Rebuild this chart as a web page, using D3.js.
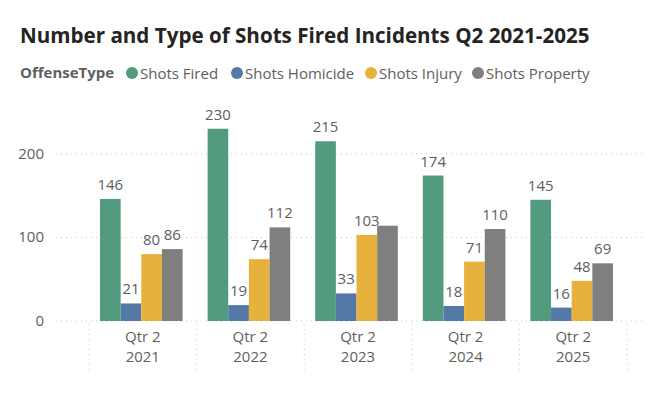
<!DOCTYPE html>
<html>
<head>
<meta charset="utf-8">
<script src="https://cdn.jsdelivr.net/npm/d3@7"></script>
<style>
  body { margin: 0; background: #fff; }
  text { font-family: "Open Sans", "Noto Sans", sans-serif; }
</style>
</head>
<body>
<div id="chart"></div>
<script>
var years = ["2021", "2022", "2023", "2024", "2025"];
var quarterLabel = "Qtr 2";
var seriesNames = ["Shots Fired", "Shots Homicide", "Shots Injury", "Shots Property"];
var shotsFired = [146, 230, 215, 174, 145];
var shotsHomicide = [21, 19, 33, 18, 16];
var shotsInjury = [80, 74, 103, 71, 48];
var shotsProperty = [86, 112, 114, 110, 69];
// 2023 property label is hidden in the original
var hiddenLabels = [[3, 2]];
var yTicks = [0, 100, 200];
var colors = ["#539B7F", "#5479A6", "#E6B23C", "#7F7F7F"];

var width = 650, height = 395;
var svg = d3.select("#chart").append("svg")
    .attr("width", width)
    .attr("height", height);

var allSeries = [shotsFired, shotsHomicide, shotsInjury, shotsProperty];

var x = d3.scaleBand().domain(years).range([89, 627]).paddingInner(0).paddingOuter(0);
var xInner = d3.scaleBand().domain(d3.range(seriesNames.length))
    .range([11, x.bandwidth() - 14]);
var y = d3.scaleLinear().domain([0, 250]).range([321, 112]);

// title
svg.append("text")
    .attr("x", 20).attr("y", 43)
    .attr("font-size", 20.6).attr("font-weight", "bold")
    .attr("fill", "#252423")
    .text("Number and Type of Shots Fired Incidents Q2 2021-2025");

// legend
var legend = svg.append("g").attr("transform", "translate(0,73)");
legend.append("text")
    .attr("x", 20).attr("y", 5)
    .attr("font-size", 15).attr("font-weight", "bold").attr("fill", "#605E5C")
    .text("OffenseType");
var legendX = [132, 237, 371, 478];
seriesNames.forEach(function (name, i) {
    var g = legend.append("g").attr("transform", "translate(" + legendX[i] + ",0)");
    g.append("circle").attr("cx", 0).attr("cy", 0).attr("r", 6).attr("fill", colors[i]);
    g.append("text").attr("x", 8).attr("y", 5.5)
        .attr("font-size", 15).attr("fill", "#605E5C").text(name);
});

// y gridlines and labels
var yAxis = svg.append("g");
yTicks.forEach(function (t) {
    yAxis.append("line")
        .attr("x1", 56).attr("x2", 645)
        .attr("y1", y(t)).attr("y2", y(t))
        .attr("stroke", "#C8C8C8").attr("stroke-width", 1)
        .attr("stroke-dasharray", "1,4");
    yAxis.append("text")
        .attr("x", 44).attr("y", y(t) + 5)
        .attr("text-anchor", "end")
        .attr("font-size", 15).attr("fill", "#605E5C")
        .text(t);
});

// category separators
years.concat(["end"]).forEach(function (yr, i) {
    var xx = i < years.length ? x(yr) : x(years[years.length - 1]) + x.bandwidth();
    svg.append("line")
        .attr("x1", xx).attr("x2", xx)
        .attr("y1", 324).attr("y2", 371)
        .attr("stroke", "#C8C8C8").attr("stroke-dasharray", "1,4");
});

// x labels
var xLab = svg.append("g");
years.forEach(function (yr) {
    var cx = x(yr) + x.bandwidth() / 2;
    xLab.append("text").attr("x", cx).attr("y", 342)
        .attr("text-anchor", "middle").attr("font-size", 15).attr("fill", "#605E5C")
        .text(quarterLabel);
    xLab.append("text").attr("x", cx).attr("y", 362)
        .attr("text-anchor", "middle").attr("font-size", 15).attr("fill", "#605E5C")
        .text(yr);
});

// bars
var groups = svg.selectAll("g.year")
    .data(years)
    .enter().append("g")
    .attr("class", "year")
    .attr("transform", function (d) { return "translate(" + x(d) + ",0)"; });

groups.each(function (yr, yi) {
    var g = d3.select(this);
    allSeries.forEach(function (s, si) {
        g.append("rect")
            .attr("x", xInner(si))
            .attr("y", y(s[yi]))
            .attr("width", xInner.bandwidth())
            .attr("height", y(0) - y(s[yi]))
            .attr("fill", colors[si]);
        var hidden = hiddenLabels.some(function (h) { return h[0] === si && h[1] === yi; });
        if (!hidden) {
            g.append("text")
                .attr("x", xInner(si) + xInner.bandwidth() / 2)
                .attr("y", y(s[yi]) - 9)
                .attr("text-anchor", "middle")
                .attr("font-size", 15).attr("fill", "#605E5C")
                .text(s[yi]);
        }
    });
});
</script>
</body>
</html>
